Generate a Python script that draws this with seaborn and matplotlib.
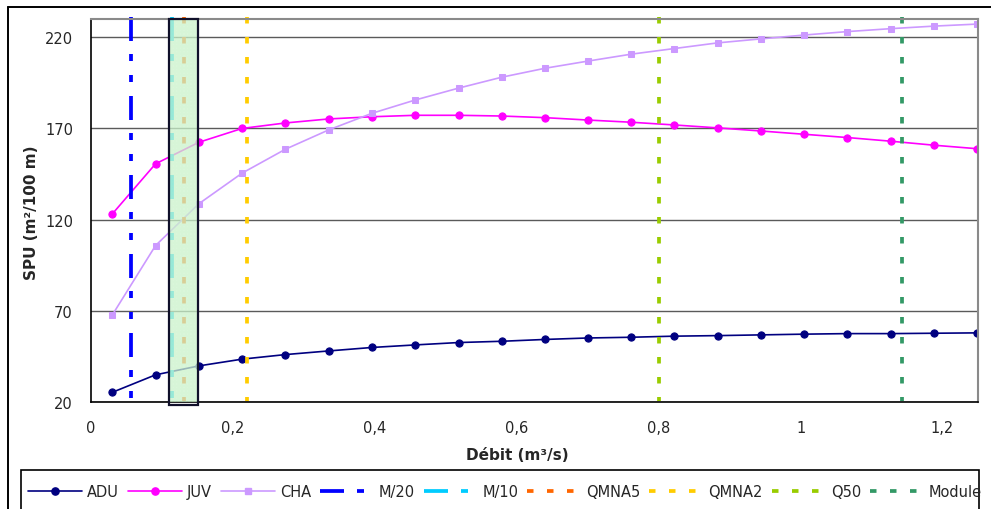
import numpy as np
import pandas as pd
import matplotlib
matplotlib.use('Agg')
import matplotlib.pyplot as plt
import seaborn as sns
from matplotlib.lines import Line2D
from matplotlib.patches import Rectangle

# débit (m3/s) des points de calcul
debit = [0.030, 0.091, 0.152, 0.213, 0.274, 0.335, 0.396, 0.457, 0.518, 0.579, 0.640,
         0.700, 0.761, 0.822, 0.883, 0.944, 1.005, 1.066, 1.127, 1.188, 1.248]
# SPU (m2/100 m) par stade
adu = [25.3, 34.9, 39.8, 43.5, 46.0, 48.0, 49.9, 51.3, 52.6, 53.3, 54.3,
       55.1, 55.5, 56.1, 56.4, 56.8, 57.2, 57.5, 57.5, 57.7, 57.9]
juv = [123.1, 150.6, 162.4, 170.0, 173.0, 175.2, 176.4, 177.2, 177.2, 176.8, 175.9,
       174.6, 173.4, 171.9, 170.3, 168.6, 166.8, 165.0, 163.0, 160.8, 158.9]
cha = [67.7, 105.8, 128.7, 145.5, 158.6, 169.2, 178.3, 185.6, 192.1, 198.1, 203.0,
       206.9, 210.7, 213.8, 216.9, 219.1, 221.2, 223.1, 224.7, 226.1, 227.2]

# débits de référence
seuils = ['M/20', 'M/10', 'QMNA5', 'QMNA2', 'Q50', 'Module']
seuil_x = [0.057, 0.114, 0.131, 0.220, 0.800, 1.143]
zone = [0.110, 0.151]

xticks = [0, 0.2, 0.4, 0.6, 0.8, 1.0, 1.2]
xtick_labels = ['0', '0,2', '0,4', '0,6', '0,8', '1', '1,2']
yticks = [20, 70, 120, 170, 220]

sns.set_style('white')
plt.rcParams['font.family'] = ['DejaVu Sans']
plt.rcParams['hatch.linewidth'] = 0.6

W, H = 991, 510
fig = plt.figure(figsize=(W / 100, H / 100), dpi=100)
ax = fig.add_axes([91 / W, 1 - 403 / H, (978 - 91) / W, (403 - 20) / H])

df = pd.DataFrame({'debit': debit * 3,
                   'spu': adu + juv + cha,
                   'stade': ['ADU'] * len(adu) + ['JUV'] * len(juv) + ['CHA'] * len(cha)})

styles = {'ADU': ('#000080', 'o', 5.2), 'JUV': ('#FF00FF', 'o', 5.2), 'CHA': ('#CC99FF', 's', 4.8)}
for st, (c, m, ms) in styles.items():
    sns.lineplot(data=df[df.stade == st], x='debit', y='spu', color=c, marker=m,
                 markersize=ms, markeredgecolor=c, lw=1.2, ax=ax, legend=False, zorder=2)

# motifs en pixels, convertis en multiples de l'épaisseur
vlw = 2.7
px = 72 / 100 / vlw
dash_long = (0, tuple(v * px for v in (24, 13, 7, 14, 7, 14)))
dash_short = (0, tuple(v * px for v in (6.5, 13.5)))
vstyles = {'M/20': ('#0000FF', dash_long), 'M/10': ('#00CCFF', dash_long),
           'QMNA5': ('#FF6600', dash_short), 'QMNA2': ('#FFCC00', dash_short),
           'Q50': ('#99CC00', dash_short), 'Module': ('#339966', dash_short)}
for nom, xv in zip(seuils, seuil_x):
    c, ls = vstyles[nom]
    ax.plot([xv, xv], [231, 20.5], color=c, ls=ls, lw=vlw, clip_on=False, zorder=2)

# zone hachurée
ax.axvspan(zone[0], zone[1], facecolor='#e2fde2', edgecolor='#bfeebf', hatch='+' * 12,
           lw=0, alpha=0.5, zorder=3)
ax.axvspan(zone[0], zone[1], ymin=-0.008, facecolor='none', edgecolor='#10102a', lw=1.6,
           zorder=4, clip_on=False)

ax.set_xlim(0, 1.25)
ax.set_ylim(20, 230)
ax.set_xticks(xticks)
ax.set_xticklabels(xtick_labels)
ax.set_yticks(yticks)
ax.tick_params(axis='both', labelsize=10.5, length=4, width=1, color='black', direction='out')
ax.tick_params(axis='x', pad=9)
ax.tick_params(axis='y', pad=9)
ax.yaxis.grid(True, color='#5a5a5a', lw=1)
ax.set_xlabel('')
ax.set_ylabel('')
for s in ['left', 'bottom']:
    ax.spines[s].set_color('black')
    ax.spines[s].set_linewidth(1.2)
for s in ['top', 'right']:
    ax.spines[s].set_color('#8a8a8a')
    ax.spines[s].set_linewidth(1.5)

fig.text(517 / W, 1 - 455 / H, 'Débit (m³/s)', ha='center', va='center',
         fontsize=11, fontweight='bold')
fig.text(32 / W, 1 - 213 / H, 'SPU (m²/100 m)', ha='center', va='center',
         rotation=90, fontsize=11, fontweight='bold')

# cadre du graphique et de la légende
fig.add_artist(Line2D([8 / W, 8 / W], [0, 1 - 8 / H], color='black', lw=1.4))
fig.add_artist(Line2D([8 / W, 1], [1 - 8 / H, 1 - 8 / H], color='black', lw=1.4))
fig.add_artist(Rectangle((21 / W, -0.1), (979 - 21) / W, 0.1 + 1 - 471 / H,
                         transform=fig.transFigure, fill=False, edgecolor='black', lw=1.2))

handles = []
for st, (c, m, ms) in styles.items():
    handles.append(Line2D([], [], color=c, marker=m, markersize=ms, markeredgecolor=c, lw=1.2))
for nom in seuils:
    c, ls = vstyles[nom]
    handles.append(Line2D([], [], color=c, ls=ls, lw=vlw))
labels = list(styles.keys()) + seuils
fig.legend(handles, labels, ncol=9, loc='center', bbox_to_anchor=(505 / W, 1 - 493 / H),
           frameon=False, fontsize=10.5, handlelength=3.7, handletextpad=0.35,
           columnspacing=0.6, borderpad=0, borderaxespad=0)

fig.savefig('out.png', dpi=100)
